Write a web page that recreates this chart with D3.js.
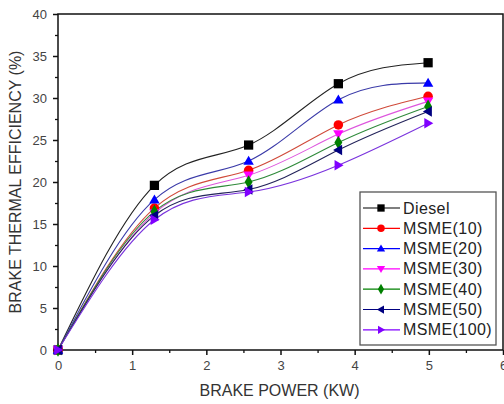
<!DOCTYPE html>
<html><head><meta charset="utf-8">
<script src="https://cdn.jsdelivr.net/npm/d3@7"></script>
<style>body{margin:0;background:#fff}svg{display:block}text{font-family:"Liberation Sans",Arial,sans-serif}</style>
</head><body><svg id="c" width="504" height="404"></svg>
<script>
const power = [0, 1.3, 2.57, 3.78, 4.99];
const seriesNames = ["Diesel","MSME(10)","MSME(20)","MSME(30)","MSME(40)","MSME(50)","MSME(100)"];
const diesel   = [0, 19.6, 24.4, 31.7, 34.2];
const msme10   = [0, 16.9, 21.4, 26.8, 30.2];
const msme20   = [0, 17.9, 22.5, 29.8, 31.8];
const msme30   = [0, 16.3, 20.8, 25.7, 29.6];
const msme40   = [0, 16.5, 20.0, 24.7, 29.0];
const msme50   = [0, 16.0, 19.1, 23.8, 28.4];
const msme100  = [0, 15.5, 18.8, 22.0, 27.0];
const xTicks = [0,1,2,3,4,5,6];
const yTicks = [0,5,10,15,20,25,30,35,40];

const values = [diesel, msme10, msme20, msme30, msme40, msme50, msme100];
const markerColors = ["#000000","#ff0000","#0000ff","#ff00ff","#008000","#000080","#8000ff"];
const lineColors   = ["#222222","#d04a3a","#3a3aa8","#dd55dd","#2f8a3a","#23235a","#7a33dd"];
const shapes = ["square","circle","up","down","diamond","left","right"];

const svg = d3.select("#c");
const L=58, R=503, T=14, B=350;
const x = d3.scaleLinear().domain([0,6]).range([L,R]);
const y = d3.scaleLinear().domain([0,40]).range([B,T]);

// frame
svg.append("rect").attr("x",L).attr("y",T).attr("width",R-L).attr("height",B-T)
  .attr("fill","none").attr("stroke","#111").attr("stroke-width",1.5);

// x axis
const xa = svg.append("g").attr("transform",`translate(0,${B})`)
  .call(d3.axisBottom(x).tickValues(xTicks).tickFormat(d3.format("d")).tickSize(5).tickPadding(6));
xa.select(".domain").remove();
xa.selectAll("line").attr("stroke","#111").attr("stroke-width",1.5);
xa.selectAll("text").attr("font-size",13).attr("fill","#444").style("font-family","Liberation Sans, Arial, sans-serif");
svg.append("g").attr("transform",`translate(0,${B})`)
  .call(d3.axisBottom(x).tickValues(d3.range(0.5,6,1)).tickFormat("").tickSize(3))
  .call(g=>{g.select(".domain").remove();g.selectAll("line").attr("stroke","#111").attr("stroke-width",1.3);});

// y axis
const ya = svg.append("g").attr("transform",`translate(${L},0)`)
  .call(d3.axisLeft(y).tickValues(yTicks).tickSize(5).tickPadding(6));
ya.select(".domain").remove();
ya.selectAll("line").attr("stroke","#111").attr("stroke-width",1.5);
ya.selectAll("text").attr("font-size",13).attr("fill","#444").style("font-family","Liberation Sans, Arial, sans-serif");
svg.append("g").attr("transform",`translate(${L},0)`)
  .call(d3.axisLeft(y).tickValues(d3.range(2.5,40,5)).tickFormat("").tickSize(3))
  .call(g=>{g.select(".domain").remove();g.selectAll("line").attr("stroke","#111").attr("stroke-width",1.3);});

// axis titles
svg.append("text").attr("x",(L+R)/2-1).attr("y",396).attr("text-anchor","middle")
  .attr("font-size",16).attr("fill","#333").text("BRAKE POWER (KW)");
svg.append("text").attr("transform",`translate(21,${(T+B)/2}) rotate(-90)`).attr("text-anchor","middle")
  .attr("font-size",16).attr("fill","#333").text("BRAKE THERMAL EFFICIENCY (%)");

function marker(g, shape, cx, cy, color, s){
  const sym = {square:d3.symbolSquare, circle:d3.symbolCircle, diamond:d3.symbolDiamond};
  if (sym[shape]) {
    const size = shape==="square"? s*s*0.95 : shape==="circle"? Math.PI*(s/2)*(s/2) : s*s*0.6;
    g.append("path").attr("d", d3.symbol().type(sym[shape]).size(size)())
      .attr("transform",`translate(${cx},${cy})`).attr("fill",color);
  } else {
    const h = s/2;
    let pts;
    if (shape==="up") pts=[[0,-h*1.1],[h*1.1,h*0.8],[-h*1.1,h*0.8]];
    else if (shape==="down") pts=[[0,h*1.1],[h*1.1,-h*0.8],[-h*1.1,-h*0.8]];
    else if (shape==="left") pts=[[-h*1.1,0],[h*0.8,-h*1.1],[h*0.8,h*1.1]];
    else pts=[[h*1.1,0],[-h*0.8,-h*1.1],[-h*0.8,h*1.1]];
    g.append("polygon").attr("points",pts.map(p=>[cx+p[0],cy+p[1]].join(",")).join(" "))
      .attr("fill",color);
  }
}

const line = d3.line().x(d=>x(d[0])).y(d=>y(d[1])).curve(d3.curveNatural);
const plot = svg.append("g");
values.forEach((vals,i)=>{
  plot.append("path").attr("d", line(power.map((p,j)=>[p,vals[j]])))
    .attr("fill","none").attr("stroke",lineColors[i]).attr("stroke-width",1.1);
});
values.forEach((vals,i)=>{
  vals.forEach((v,j)=> marker(plot, shapes[i], x(power[j]), y(v), markerColors[i], 9.5));
});

// legend
const lg = svg.append("g");
const lx=360, ly=192, lw=136, lh=153, sp=20.3;
lg.append("rect").attr("x",lx).attr("y",ly).attr("width",lw).attr("height",lh)
  .attr("fill","#fff").attr("stroke","#555").attr("stroke-width",1.3);
seriesNames.forEach((n,i)=>{
  const yy = ly+16+i*sp;
  lg.append("line").attr("x1",lx+3).attr("x2",lx+40).attr("y1",yy).attr("y2",yy)
    .attr("stroke",markerColors[i]).attr("stroke-width",1.2);
  marker(lg, shapes[i], lx+21, yy, markerColors[i], 7.5);
  lg.append("text").attr("x",lx+43).attr("y",yy+5.5).attr("font-size",16).attr("fill","#222")
    .attr("letter-spacing",0.4).text(n);
});
</script></body></html>
